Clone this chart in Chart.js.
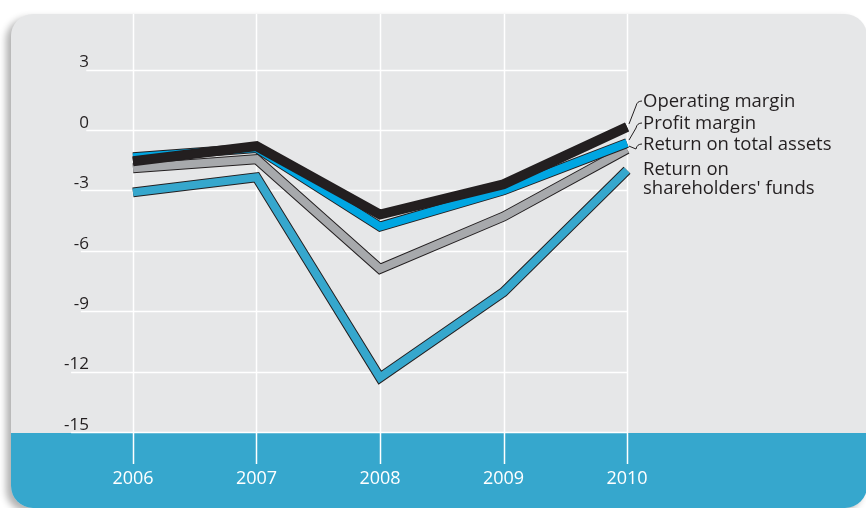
<!DOCTYPE html>
<html lang="en">
<head>
  <meta charset="UTF-8">
  <meta name="viewport" content="width=device-width, initial-scale=1.0">
  <title>Margins and returns 2006-2010</title>
  <script src="https://cdn.jsdelivr.net/npm/chart.js"></script>
  <style>
    html, body {
      margin: 0;
      padding: 0;
      background: #fff;
    }
    body {
      position: relative;
      width: 866px;
      height: 508px;
      overflow: hidden;
    }
    .panel {
      position: absolute;
      left: 11px;
      top: 14px;
      width: 856px;
      height: 494px;
      background: #e6e7e8;
      border-radius: 22px;
      box-shadow: -5px 4px 7px rgba(0,0,0,0.3);
      overflow: hidden;
    }
    .band {
      position: absolute;
      left: 0;
      right: 0;
      top: 419px;
      bottom: 0;
      background: #36a7cd;
    }
    #chart {
      position: absolute;
      left: 0;
      top: 0;
    }
  </style>
</head>
<body>
  <div class="panel"><div class="band"></div></div>
  <canvas id="chart" width="866" height="508"></canvas>

  <script>
    // values in percent
    const years = [2006, 2007, 2008, 2009, 2010];
    const operatingMargin = [-1.55, -0.8, -4.2, -2.7, 0.15];
    const profitMargin = [-1.35, -0.9, -4.8, -3.0, -0.65];
    const returnOnAssets = [-1.9, -1.45, -6.9, -4.3, -0.95];
    const returnOnFunds = [-3.1, -2.35, -12.3, -8.05, -2.0];
    const yTicks = [3, 0, -3, -6, -9, -12, -15];

    const ink = '#231f20';
    const font = "'Open Sans', sans-serif";

    // top series first: Chart.js paints dataset 0 last
    const series = [
      { name: ['Operating margin'], data: operatingMargin, color: '#231f20', labelY: 102, leader: true },
      { name: ['Profit margin'], data: profitMargin, color: '#00a6e2', labelY: 124, leader: true },
      { name: ['Return on total assets'], data: returnOnAssets, color: '#a7a9ac', labelY: 145, leader: true },
      { name: ['Return on', "shareholders' funds"], data: returnOnFunds, color: '#36a7cd', labelY: 170, leader: false }
    ];

    const datasets = [];
    series.forEach(s => {
      const pts = years.map((yr, i) => ({ x: yr, y: s.data[i] }));
      const common = { data: pts, pointRadius: 0, tension: 0, borderJoinStyle: 'miter', borderCapStyle: 'butt', fill: false };
      datasets.push(Object.assign({ label: s.name.join(' '), borderColor: s.color, borderWidth: 8 }, common));
      datasets.push(Object.assign({ label: s.name.join(' ') + ' edge', borderColor: ink, borderWidth: 10 }, common));
    });

    const gridPlugin = {
      id: 'gridLines',
      beforeDatasetsDraw(chart) {
        const { ctx, chartArea, scales: { x, y } } = chart;
        const lastX = x.getPixelForValue(years[years.length - 1]);
        ctx.save();
        ctx.strokeStyle = '#ffffff';
        ctx.lineWidth = 1.5;
        years.forEach(yr => {
          const px = Math.round(x.getPixelForValue(yr)) + 0.5;
          ctx.beginPath();
          ctx.moveTo(px, chartArea.top);
          ctx.lineTo(px, 464);
          ctx.stroke();
        });
        ctx.font = '17px ' + font;
        yTicks.forEach(v => {
          const py = Math.round(y.getPixelForValue(v)) + 0.5;
          const w = ctx.measureText(String(v)).width;
          ctx.beginPath();
          ctx.moveTo(y.right - 3 - w - 1, py);
          ctx.lineTo(lastX, py);
          ctx.stroke();
        });
        ctx.restore();
      }
    };

    const labelPlugin = {
      id: 'seriesLabels',
      afterDatasetsDraw(chart) {
        const { ctx, scales: { x, y } } = chart;
        const lastX = x.getPixelForValue(years[years.length - 1]);
        const tx = 643;
        ctx.save();
        ctx.font = '18.5px ' + font;
        ctx.fillStyle = ink;
        ctx.textBaseline = 'middle';
        ctx.strokeStyle = ink;
        ctx.lineWidth = 1;
        series.forEach(s => {
          s.name.forEach((line, i) => ctx.fillText(line, tx, s.labelY + i * 19));
          if (!s.leader) return;
          const sx = lastX + 2;
          const sy = y.getPixelForValue(s.data[s.data.length - 1]) - 3;
          const ly = s.labelY - 1;
          ctx.beginPath();
          ctx.moveTo(sx, sy);
          ctx.lineTo(tx - 7, ly + 5);
          ctx.quadraticCurveTo(tx - 6, ly, tx - 1, ly);
          ctx.stroke();
        });
        ctx.restore();
      }
    };

    new Chart(document.getElementById('chart'), {
      type: 'line',
      data: { datasets },
      options: {
        responsive: false,
        animation: false,
        layout: { padding: { top: 14, left: 0, right: 0, bottom: 0 } },
        plugins: {
          legend: { display: false },
          tooltip: { enabled: false }
        },
        scales: {
          x: {
            type: 'linear',
            min: 2005.733,
            max: 2011.935,
            afterBuildTicks: s => { s.ticks = years.map(v => ({ value: v })); },
            afterFit: s => { s.height = 76; },
            grid: { display: false },
            border: { display: false },
            ticks: {
              color: '#ffffff',
              font: { family: font, size: 18 },
              padding: 28,
              maxRotation: 0,
              callback: v => String(v)
            }
          },
          y: {
            min: -15,
            max: 5.76,
            afterBuildTicks: s => { s.ticks = yTicks.map(v => ({ value: v })); },
            afterFit: s => { s.width = 100; },
            grid: { display: false },
            border: { display: false },
            ticks: {
              color: ink,
              font: { family: font, size: 17 },
              padding: 3,
              labelOffset: -7,
              callback: v => String(v)
            }
          }
        }
      },
      plugins: [gridPlugin, labelPlugin]
    });
  </script>
</body>
</html>
